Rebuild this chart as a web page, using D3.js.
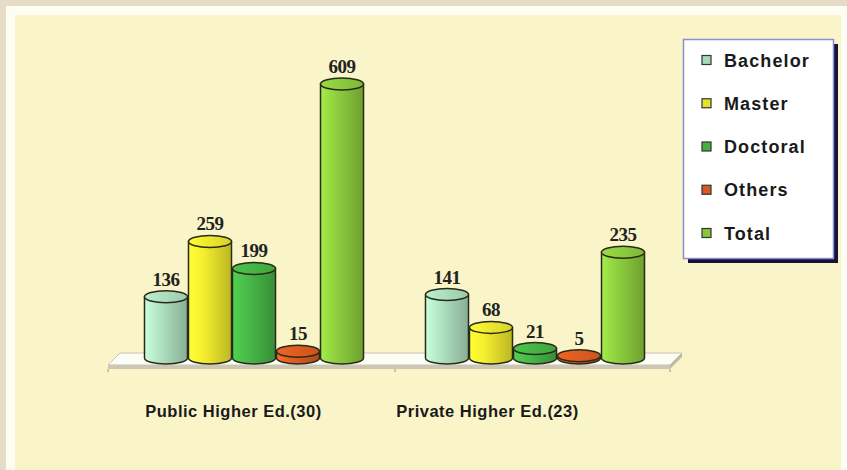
<!DOCTYPE html>
<html><head><meta charset="utf-8">
<script src="https://cdn.jsdelivr.net/npm/d3@7"></script>
<style>body{margin:0;background:#e6dcc6;}svg{display:block;}</style>
</head><body>
<svg id="chart" width="847" height="470"></svg>
<script>
const categories = ["Public Higher Ed.(30)", "Private Higher Ed.(23)"];
const seriesNames = ["Bachelor", "Master", "Doctoral", "Others", "Total"];
const bachelor = [136, 141];
const master = [259, 68];
const doctoral = [199, 21];
const others = [15, 5];
const total = [609, 235];
const seriesValues = [bachelor, master, doctoral, others, total];
const seriesColors = ["#a8d8b8", "#e8e22c", "#44b044", "#d85a20", "#88c63c"];
const catLabelShift = [-21, -48];

const svg = d3.select("#chart");
// background frame
svg.append("rect").attr("x",0).attr("y",0).attr("width",847).attr("height",470).attr("fill","#e6dcc6");
svg.append("rect").attr("x",6).attr("y",6).attr("width",841).attr("height",464).attr("fill","#fefdf4");
svg.append("rect").attr("x",15).attr("y",15).attr("width",826).attr("height",455).attr("fill","#f9f5c8");

const x0 = d3.scaleBand().domain(categories).range([114, 676]).paddingInner(0.217).paddingOuter(0.1085);
const x1 = d3.scaleBand().domain(seriesNames).range([0, x0.bandwidth()]).padding(0);
const y = d3.scaleLinear().domain([0, 609]).range([358, 84]);

const defs = svg.append("defs");
seriesNames.forEach((s, i) => {
  const c = d3.color(seriesColors[i]);
  const g = defs.append("linearGradient").attr("id", "g" + i).attr("x1", "0%").attr("x2", "100%");
  g.append("stop").attr("offset", "0%").attr("stop-color", c.brighter(0.5));
  g.append("stop").attr("offset", "35%").attr("stop-color", c.brighter(0.15));
  g.append("stop").attr("offset", "100%").attr("stop-color", c.darker(0.6));
  const t = defs.append("linearGradient").attr("id", "t" + i).attr("x1", "0%").attr("x2", "100%");
  t.append("stop").attr("offset", "0%").attr("stop-color", c.brighter(0.3));
  t.append("stop").attr("offset", "100%").attr("stop-color", c.darker(0.2));
});

// floor
const fl = x0.range()[0] - 6, fr = x0.range()[1] - 6, y0 = y(0);
svg.append("path")
  .attr("d", `M${fl+12},${y0-5} L${fr+12},${y0-5} L${fr},${y0+7} L${fl},${y0+7} Z`)
  .attr("fill", "#fdfdf8").attr("stroke", "#c9c5ae").attr("stroke-width", 1);
svg.append("path")
  .attr("d", `M${fl},${y0+7} L${fr},${y0+7} L${fr},${y0+11} L${fl},${y0+11} Z`)
  .attr("fill", "#cbc7b2");
svg.append("path")
  .attr("d", `M${fr},${y0+7} L${fr+12},${y0-5} L${fr+12},${y0-1} L${fr},${y0+11} Z`)
  .attr("fill", "#bdb9a4");
// category tick marks
[x0.range()[0] - 6, (x0(categories[0]) + x0.bandwidth() + x0(categories[1])) / 2, fr].forEach(tx => {
  svg.append("line").attr("x1", tx).attr("x2", tx).attr("y1", y0 + 11).attr("y2", y0 + 14)
    .attr("stroke", "#9a9680").attr("stroke-width", 1);
});

const ry = 6;
const bars = [];
categories.forEach((cat, ci) => {
  seriesNames.forEach((s, si) => {
    bars.push({cat, ci, s, si, v: seriesValues[si][ci]});
  });
});

const g = svg.append("g");
bars.forEach(d => {
  const w = x1.bandwidth() - 1;
  const left = x0(d.cat) + x1(d.s);
  const right = left + w;
  const rx = w / 2;
  const yt = y(d.v), yb = y(0);
  const bg = g.append("g");
  bg.append("path")
    .attr("d", `M${left},${yt} L${left},${yb} A${rx},${ry} 0 0 0 ${right},${yb} L${right},${yt} Z`)
    .attr("fill", `url(#g${d.si})`).attr("stroke", "#2a2a1a").attr("stroke-width", 1.5);
  bg.append("ellipse").attr("cx", left + rx).attr("cy", yt).attr("rx", rx).attr("ry", ry)
    .attr("fill", `url(#t${d.si})`).attr("stroke", "#2a2a1a").attr("stroke-width", 1.5);
  g.append("text").attr("x", left + rx).attr("y", yt - 11)
    .attr("text-anchor", "middle")
    .attr("font-family", "Liberation Serif, Times New Roman, serif")
    .attr("font-weight", "bold").attr("font-size", 19).attr("letter-spacing", -0.5).attr("fill", "#222")
    .text(d.v);
});

// category labels
categories.forEach((c, i) => {
  svg.append("text").attr("x", x0(c) + x0.bandwidth() / 2 + catLabelShift[i]).attr("y", 417)
    .attr("text-anchor", "middle")
    .attr("font-family", "Liberation Sans, Arial, sans-serif")
    .attr("font-weight", "bold").attr("font-size", 16.5).attr("letter-spacing", 0.5).attr("fill", "#1a1a1a")
    .text(c);
});

// legend
const lg = svg.append("g");
lg.append("rect").attr("x", 688).attr("y", 44).attr("width", 150).attr("height", 219).attr("fill", "#14143a");
lg.append("rect").attr("x", 683.5).attr("y", 39.5).attr("width", 150).attr("height", 219)
  .attr("fill", "#ffffff").attr("stroke", "#8c8cd0").attr("stroke-width", 1.5);
const ly = d3.scalePoint().domain(seriesNames).range([60, 233]);
seriesNames.forEach((s, i) => {
  lg.append("rect").attr("x", 702).attr("y", ly(s) - 4.5).attr("width", 9).attr("height", 9)
    .attr("fill", seriesColors[i]).attr("stroke", "#333").attr("stroke-width", 1.2);
  lg.append("text").attr("x", 724).attr("y", ly(s) + 6.5)
    .attr("font-family", "Liberation Sans, Arial, sans-serif")
    .attr("font-weight", "bold").attr("font-size", 18).attr("letter-spacing", 1.1).attr("fill", "#1a1a1a")
    .text(s);
});
</script>
</body></html>
